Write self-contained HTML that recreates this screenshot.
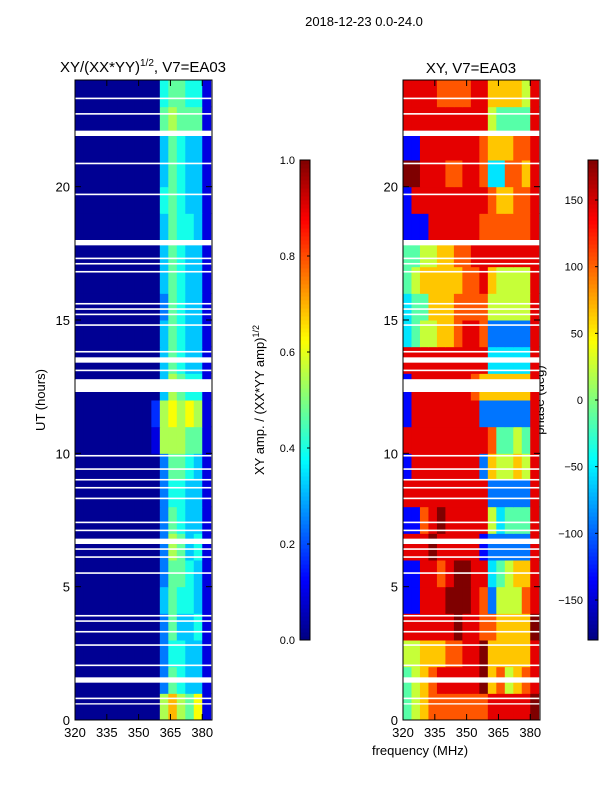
<!DOCTYPE html>
<html><head><meta charset="utf-8"><style>
body{margin:0;background:#fff;font-family:"Liberation Sans",sans-serif}
svg text{font-family:"Liberation Sans",sans-serif;fill:#000}
</style></head><body>
<svg id="c" width="600" height="800" xmlns="http://www.w3.org/2000/svg">
<text x="364" y="26" font-size="13" text-anchor="middle">2018-12-23 0.0-24.0</text>
<text x="143" y="72" font-size="15" text-anchor="middle">XY/(XX*YY)<tspan font-size="10" dy="-6">1/2</tspan><tspan dy="6">, V7=EA03</tspan></text>
<text x="471" y="73" font-size="15" text-anchor="middle">XY, V7=EA03</text>
<text transform="translate(45,400) rotate(-90)" font-size="13" text-anchor="middle">UT (hours)</text>
<text x="420" y="755" font-size="13" text-anchor="middle">frequency (MHz)</text>
<text transform="translate(264,400) rotate(-90)" font-size="13" text-anchor="middle">XY amp. / (XX*YY amp)<tspan font-size="9" dy="-5">1/2</tspan></text>
<text transform="translate(544,400) rotate(-90)" font-size="13" text-anchor="middle">phase (deg)</text>
</svg>
<script>
const freqTicks=[320,335,350,365,380];
const hourTicks=[0,5,10,15,20];
const cb1Ticks=[0,0.2,0.4,0.6,0.8,1.0];
const cb2Ticks=[-150,-100,-50,0,50,100,150];
const ampRows=["0000000000797681","0000000000365441","0000000000355441","0000000000364451","0000000000465541","0000000000366541","0000000000376451","0000000000365441","0000000000355441","0000000000366541","0000000001777661","0000000002787871","0000000000476551","0000000000465441","0000000000465441","0000000000365441","0000000000465441","0000000000465441","0000000000465541","0000000000565441","0000000000465441","0000000000465441","0000000000676661","0000000000566551"];
const phaseRows=["4567777777888889","4567888889675678","5566677889666668","8888889887766669","1188899987255578","1188789988345668","8889888881222228","1178988888534448","8888888888222228","1888888882655658","8888888888744548","1888888882222228","1888888876666668","8888888888333338","3455667887222228","3446667777555558","4566666778655558","4455667788888888","1118888887777778","1888888888766778","9988877887337768","1188888887666778","8888888888544448","8888777788666658"];
const gaps=[[0.58,0.63],[0.78,0.84],[1.4,1.6],[2.02,2.08],[2.78,2.84],[3.28,3.34],[3.68,3.74],[3.88,3.94],[5.48,5.54],[6.08,6.14],[6.38,6.44],[6.6,6.8],[7.08,7.14],[7.38,7.44],[8.28,8.34],[8.68,8.74],[8.98,9.04],[9.38,9.44],[9.88,9.94],[12.3,12.78],[13.08,13.14],[13.4,13.6],[13.78,13.84],[14.78,14.84],[15.18,15.24],[15.38,15.44],[15.58,15.64],[16.78,16.84],[17.08,17.14],[17.28,17.34],[17.8,18.0],[19.68,19.74],[20.84,20.9],[21.9,22.1],[22.7,22.76],[23.28,23.34]];
const NS="http://www.w3.org/2000/svg",svg=document.getElementById('c');
function el(t,a,p){const e=document.createElementNS(NS,t);for(const k in a)e.setAttribute(k,a[k]);(p||svg).appendChild(e);return e;}
function jet(v){v=Math.max(0,Math.min(1,v));const r=Math.max(0,Math.min(1,1.5-Math.abs(4*v-3))),g=Math.max(0,Math.min(1,1.5-Math.abs(4*v-2))),b=Math.max(0,Math.min(1,1.5-Math.abs(4*v-1)));return `rgb(${r*255|0},${g*255|0},${b*255|0})`;}
const yH=h=>720-h*(640/24);
function panel(x0,x1,rows,valFn,name){
  const f0=320,f1=384.6,xF=f=>x0+(f-f0)*(x1-x0)/(f1-f0);
  const g=el('g',{});
  rows.forEach((r,h)=>{for(let i=0;i<r.length;i++){const fa=320+i*4,fb=Math.min(f1,fa+4);
    const c=el('rect',{x:xF(fa),y:yH(h+1),width:xF(fb)-xF(fa)+0.5,height:yH(h)-yH(h+1)+0.5,fill:jet(valFn(+r[i]))},g);
    }});
  gaps.forEach(gp=>{const w=el('rect',{x:x0,y:yH(gp[1]),width:x1-x0,height:yH(gp[0])-yH(gp[1]),fill:'#fff'},g);
    });
  const fr=el('rect',{x:x0,y:80,width:x1-x0,height:640,fill:'none',stroke:'#000','stroke-width':1},g);
  
  freqTicks.forEach(f=>{const x=xF(f);el('line',{x1:x,x2:x,y1:720,y2:714,stroke:'#000'},g);el('line',{x1:x,x2:x,y1:80,y2:86,stroke:'#000'},g);
    const t=el('text',{x:x,y:737,'font-size':13,'text-anchor':'middle'},g);t.textContent=f;
    });
  hourTicks.forEach(h=>{const y=yH(h);el('line',{x1:x0,x2:x0+6,y1:y,y2:y,stroke:'#000'},g);el('line',{x1:x1,x2:x1-6,y1:y,y2:y,stroke:'#000'},g);
    const t=el('text',{x:x0-5,y:y+5,'font-size':13,'text-anchor':'end'},g);t.textContent=h;
    });
}
panel(75,212,ampRows,d=>0.02+d*0.075,'amplitude-heatmap');
panel(403,540,phaseRows,d=>0.02+d*0.11,'phase-heatmap');
function cbar(x,lo,hi,ticks,fmt,name){
  const g=el('g',{});
  for(let i=0;i<120;i++){el('rect',{x:x,y:640-(i+1)*4,width:10,height:4.5,fill:jet((i+0.5)/120)},g);}
  el('rect',{x:x,y:160,width:10,height:480,fill:'none',stroke:'#000'},g);
  ticks.forEach(v=>{const y=640-(v-lo)/(hi-lo)*480;el('line',{x1:x+7,x2:x+10,y1:y,y2:y,stroke:'#000'},g);
    const t=el('text',{x:x+(fmt?-5:17),y:y+4,'font-size':11,'text-anchor':fmt?'end':'start'},g);t.textContent=fmt?fmt(v):v;
    });
}
cbar(300,0,1,cb1Ticks,v=>v.toFixed(1),'amplitude-colorbar');
cbar(588,-180,180,cb2Ticks,v=>v<0?'\u2212'+(-v):''+v,'phase-colorbar');
</script>
</body></html>
